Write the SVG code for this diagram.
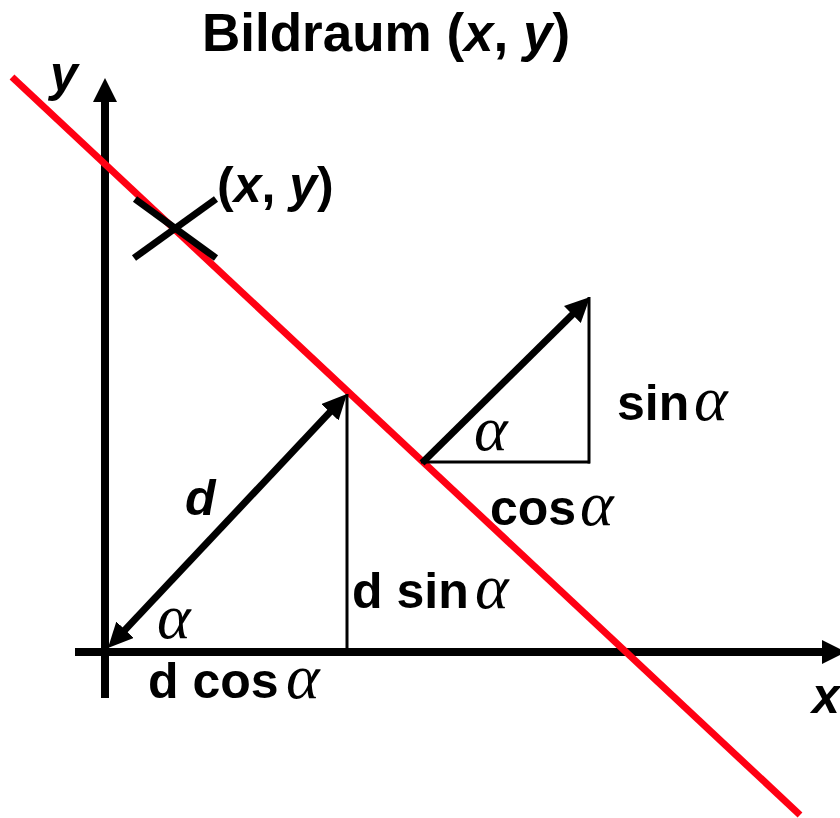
<svg xmlns="http://www.w3.org/2000/svg" width="840" height="818" viewBox="0 0 840 818">
<style>
.lbl{font-family:"Liberation Sans",Arial,sans-serif;font-weight:bold;font-size:50px;fill:#000}
.it{font-style:italic}
.al{font-family:"Liberation Serif","Times New Roman",serif;font-style:italic;font-weight:normal;font-size:64px}
.axis{stroke:#000;stroke-width:8;fill:none}
.thick{stroke:#000;stroke-width:7;fill:none}
.thin{stroke:#000;stroke-width:3;fill:none}
.red{stroke:#ff0013;stroke-width:7;fill:none}
</style>
<defs>
<marker id="ah" viewBox="0 0 24 24" refX="8" refY="12" markerWidth="24" markerHeight="24" markerUnits="userSpaceOnUse" orient="auto">
<path d="M0,0 L24,12 L0,24 z" fill="#000"/>
</marker>
<marker id="vh" viewBox="0 0 25 24" refX="8" refY="12" markerWidth="25" markerHeight="24" markerUnits="userSpaceOnUse" orient="auto-start-reverse">
<path d="M0,0 L25,12 L0,24 z" fill="#000"/>
</marker>
</defs>
<rect width="840" height="818" fill="#fff"/>
<g id="axes">
<line class="axis" x1="105" y1="698" x2="105" y2="94" marker-end="url(#ah)"/>
<line class="axis" x1="75" y1="652" x2="830" y2="652" marker-end="url(#ah)"/>
</g>
<g id="red-line">
<line class="red" x1="12" y1="77" x2="800" y2="815"/>
</g>
<g id="point-marker">
<line class="thick" x1="134" y1="258" x2="216" y2="199"/>
<line class="thick" x1="135" y1="199" x2="216" y2="258"/>
</g>
<g id="connectors">
<line class="thick" x1="119.6" y1="635.6" x2="335.3" y2="406.4" marker-start="url(#vh)" marker-end="url(#vh)"/>
<line class="thin" x1="347" y1="394" x2="347" y2="652"/>
<line class="thick" x1="422" y1="463" x2="578" y2="308.9" marker-end="url(#vh)"/>
<line class="thin" x1="421" y1="462" x2="590" y2="462"/>
<line class="thin" x1="589" y1="297" x2="589" y2="463.5"/>
</g>
<g id="labels">
<text class="lbl" x="202" y="51" style="font-size:53px">Bildraum (<tspan class="it">x</tspan>, <tspan class="it">y</tspan>)</text>
<text class="lbl it" x="50" y="91">y</text>
<text class="lbl" x="217" y="202">(<tspan class="it">x</tspan>, <tspan class="it">y</tspan>)</text>
<text class="lbl it" x="185" y="515">d</text>
<text class="lbl al" x="157" y="638">α</text>
<text class="lbl" x="148" y="698">d cos<tspan class="al" x="286">α</tspan></text>
<text class="lbl" x="352" y="608">d sin<tspan class="al" x="475">α</tspan></text>
<text class="lbl al" x="474" y="450">α</text>
<text class="lbl" x="617" y="420">sin<tspan class="al" x="694">α</tspan></text>
<text class="lbl" x="490" y="525">cos<tspan class="al" x="580">α</tspan></text>
<text class="lbl it" x="812" y="713">x</text>
</g>
</svg>
